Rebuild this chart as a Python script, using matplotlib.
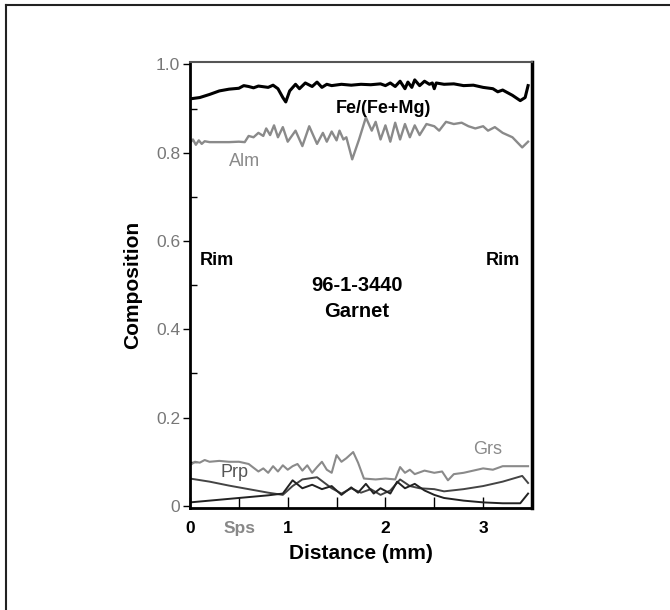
#!/usr/bin/env python3

import numpy as np
from matplotlib import pyplot as plt
from matplotlib.lines import Line2D
from matplotlib.ticker import MultipleLocator

plt.rcParams['font.family'] = ['Liberation Sans', 'DejaVu Sans']

# traverse data (distance in mm, mole fraction)
fe_x = [0.0, 0.1, 0.2, 0.3, 0.4, 0.5, 0.55, 0.6, 0.65, 0.7, 0.8, 0.85, 0.9,
        0.95, 0.98, 1.02, 1.08, 1.12, 1.18, 1.25, 1.3, 1.35, 1.4, 1.45, 1.55,
        1.65, 1.75, 1.85, 1.95, 2.0, 2.05, 2.1, 2.15, 2.2, 2.23, 2.27, 2.3,
        2.35, 2.4, 2.45, 2.48, 2.5, 2.52, 2.6, 2.7, 2.8, 2.9, 3.0, 3.1, 3.15,
        3.2, 3.3, 3.38, 3.43, 3.46]
fe_y = [0.922, 0.925, 0.932, 0.940, 0.944, 0.946, 0.952, 0.950, 0.947, 0.951,
        0.948, 0.953, 0.945, 0.925, 0.915, 0.940, 0.955, 0.945, 0.958, 0.950,
        0.960, 0.948, 0.955, 0.952, 0.955, 0.953, 0.955, 0.954, 0.956, 0.952,
        0.958, 0.950, 0.962, 0.945, 0.960, 0.948, 0.965, 0.952, 0.962, 0.955,
        0.958, 0.945, 0.958, 0.955, 0.956, 0.952, 0.953, 0.948, 0.945, 0.938,
        0.942, 0.930, 0.918, 0.925, 0.952]

alm_x = [0.0, 0.03, 0.06, 0.09, 0.12, 0.15, 0.2, 0.3, 0.4, 0.5, 0.56, 0.6,
         0.65, 0.7, 0.75, 0.78, 0.82, 0.86, 0.9, 0.95, 1.0, 1.08, 1.15, 1.22,
         1.3, 1.36, 1.4, 1.45, 1.5, 1.53, 1.57, 1.6, 1.66, 1.73, 1.8, 1.86,
         1.9, 1.95, 2.0, 2.05, 2.1, 2.15, 2.2, 2.25, 2.3, 2.35, 2.42, 2.5,
         2.55, 2.62, 2.7, 2.78, 2.85, 2.92, 3.0, 3.05, 3.12, 3.2, 3.3, 3.4,
         3.46]
alm_y = [0.822, 0.830, 0.818, 0.828, 0.820, 0.826, 0.824, 0.824, 0.824, 0.825,
         0.824, 0.838, 0.835, 0.845, 0.838, 0.855, 0.840, 0.862, 0.835, 0.858,
         0.825, 0.850, 0.815, 0.860, 0.820, 0.845, 0.825, 0.848, 0.828, 0.850,
         0.830, 0.835, 0.785, 0.830, 0.880, 0.850, 0.870, 0.830, 0.862, 0.825,
         0.868, 0.830, 0.865, 0.835, 0.862, 0.840, 0.865, 0.860, 0.850, 0.870,
         0.865, 0.868, 0.860, 0.855, 0.860, 0.850, 0.858, 0.845, 0.835, 0.812,
         0.825]

grs_x = [0.0, 0.05, 0.1, 0.15, 0.2, 0.3, 0.4, 0.5, 0.6, 0.7, 0.75, 0.8, 0.85,
         0.9, 0.95, 1.0, 1.05, 1.1, 1.15, 1.2, 1.25, 1.3, 1.35, 1.4, 1.45,
         1.5, 1.55, 1.6, 1.67, 1.72, 1.78, 1.9, 2.0, 2.1, 2.15, 2.2, 2.25,
         2.3, 2.4, 2.5, 2.58, 2.64, 2.7, 2.8, 2.9, 3.0, 3.1, 3.2, 3.46]
grs_y = [0.092, 0.100, 0.098, 0.104, 0.100, 0.102, 0.100, 0.100, 0.095, 0.078,
         0.085, 0.075, 0.090, 0.078, 0.092, 0.082, 0.090, 0.095, 0.080, 0.092,
         0.075, 0.088, 0.100, 0.082, 0.075, 0.115, 0.100, 0.108, 0.122, 0.098,
         0.062, 0.060, 0.062, 0.060, 0.088, 0.075, 0.082, 0.072, 0.080, 0.075,
         0.078, 0.058, 0.072, 0.075, 0.080, 0.085, 0.082, 0.090, 0.090]

prp_x = [0.0, 0.2, 0.4, 0.6, 0.8, 0.95, 1.05, 1.15, 1.3, 1.45, 1.55, 1.65,
         1.75, 1.85, 1.95, 2.05, 2.15, 2.25, 2.35, 2.5, 2.6, 2.8, 3.0, 3.2,
         3.4, 3.46]
prp_y = [0.062, 0.055, 0.046, 0.038, 0.030, 0.025, 0.045, 0.060, 0.065, 0.040,
         0.028, 0.040, 0.030, 0.038, 0.025, 0.035, 0.060, 0.045, 0.040, 0.038,
         0.033, 0.038, 0.045, 0.055, 0.068, 0.052]

sps_x = [0.0, 0.2, 0.4, 0.6, 0.8, 0.95, 1.05, 1.15, 1.25, 1.35, 1.45, 1.55,
         1.65, 1.72, 1.8, 1.88, 1.95, 2.05, 2.12, 2.2, 2.3, 2.4, 2.5, 2.6,
         2.8, 3.0, 3.2, 3.38, 3.46]
sps_y = [0.008, 0.012, 0.016, 0.020, 0.024, 0.028, 0.058, 0.040, 0.048, 0.038,
         0.045, 0.025, 0.042, 0.030, 0.050, 0.028, 0.040, 0.028, 0.055, 0.040,
         0.050, 0.035, 0.025, 0.018, 0.012, 0.008, 0.006, 0.006, 0.028]


def style_axes(ax):
    ax.set_xlim(0, 3.5)
    ax.set_ylim(-0.005, 1.005)
    ax.yaxis.set_major_locator(MultipleLocator(0.2))
    ax.yaxis.set_minor_locator(MultipleLocator(0.1))
    ax.xaxis.set_major_locator(MultipleLocator(1))
    ax.xaxis.set_minor_locator(MultipleLocator(0.5))
    ax.set_yticks([0, 0.2, 0.4, 0.6, 0.8, 1.0])
    ax.set_yticklabels(['0', '0.2', '0.4', '0.6', '0.8', '1.0'])
    ax.tick_params(axis='y', which='major', direction='out', length=5,
                   width=1.0, labelsize=12.5, labelcolor='#777777', pad=2)
    ax.tick_params(axis='y', which='minor', direction='in', length=5,
                   width=1.0)
    ax.tick_params(axis='x', which='both', direction='in', length=8,
                   width=1.0, labelsize=12.5, pad=9)
    for lab in ax.get_xticklabels():
        lab.set_fontweight('bold')
    ax.spines['left'].set_linewidth(2.0)
    ax.spines['bottom'].set_linewidth(2.0)
    ax.spines['right'].set_linewidth(2.5)
    ax.spines['top'].set_linewidth(1.5)
    ax.spines['top'].set_color('#555555')
    ax.set_xlabel('Distance (mm)', fontsize=15, fontweight='bold',
                  labelpad=6)
    ax.set_ylabel('Composition', fontsize=15, fontweight='bold',
                  labelpad=10)


def main():
    fig = plt.figure(figsize=(6.7, 6.1), dpi=100)
    ax = fig.add_axes([0.2836, 0.167, 0.5104, 0.731])

    ax.plot(fe_x, fe_y, color='black', linewidth=2.2)
    ax.plot(alm_x, alm_y, color='#8a8a8a', linewidth=1.7)
    ax.plot(grs_x, grs_y, color='#8a8a8a', linewidth=1.5)
    ax.plot(prp_x, prp_y, color='#444444', linewidth=1.4)
    ax.plot(sps_x, sps_y, color='#222222', linewidth=1.4)

    ax.text(1.98, 0.90, 'Fe/(Fe+Mg)', fontsize=13, fontweight='bold',
            ha='center', va='center')
    ax.text(0.56, 0.78, 'Alm', fontsize=13, color='#8a8a8a',
            ha='center', va='center')
    ax.text(3.05, 0.127, 'Grs', fontsize=13, color='#8a8a8a',
            ha='center', va='center')
    ax.text(0.46, 0.075, 'Prp', fontsize=13, color='#555555',
            ha='center', va='center')
    ax.text(0.28, 0.557, 'Rim', fontsize=13, fontweight='bold',
            ha='center', va='center')
    ax.text(3.2, 0.557, 'Rim', fontsize=13, fontweight='bold',
            ha='center', va='center')
    ax.text(1.71, 0.50, '96-1-3440', fontsize=14.5, fontweight='bold',
            ha='center', va='center')
    ax.text(1.71, 0.44, 'Garnet', fontsize=14.5, fontweight='bold',
            ha='center', va='center')
    ax.text(0.51, -0.028, 'Sps', fontsize=12.5, color='#888888',
            ha='center', va='top', fontweight='bold',
            transform=ax.get_xaxis_transform())

    style_axes(ax)

    # page frame, top and left edges only
    fig.add_artist(Line2D([6 / 670, 1.0], [1 - 5 / 610, 1 - 5 / 610],
                          color='#222222', linewidth=1.5))
    fig.add_artist(Line2D([6 / 670, 6 / 670], [0.0, 1 - 5 / 610],
                          color='#222222', linewidth=1.5))

    fig.savefig('out.png', dpi=100)


if __name__ == '__main__':
    main()
